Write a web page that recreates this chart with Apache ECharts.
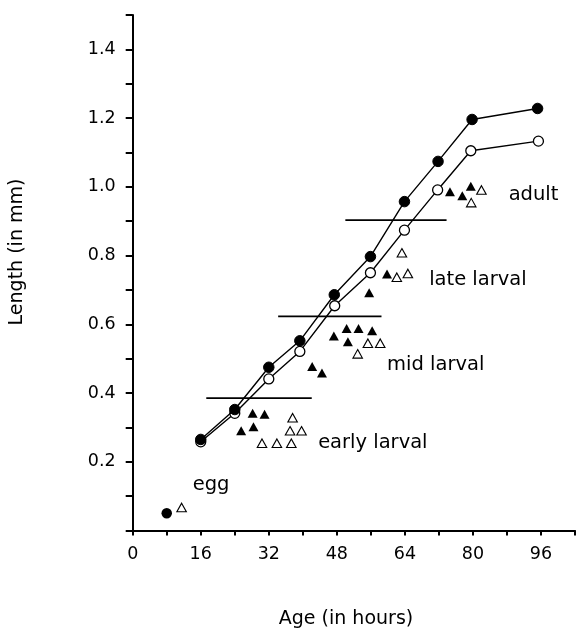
<!DOCTYPE html>
<html>
<head>
<meta charset="utf-8">
<script src="https://cdn.jsdelivr.net/npm/echarts@6/dist/echarts.min.js"></script>
<style>html,body{margin:0;padding:0;background:#fff;}#chart{width:578px;height:632px;}</style>
</head>
<body>
<div id="chart"></div>
<script>
// ---- data (age in hours, length in mm) ----
const eggCircle = [[8, 0.05]];
const filledLine = [[16,0.265],[24,0.352],[32,0.475],[39.3,0.552],[47.4,0.686],[55.9,0.797],[63.9,0.957],[71.8,1.074],[79.8,1.196],[95.2,1.228]];
const openLine = [[16,0.258],[24,0.341],[32,0.441],[39.3,0.521],[47.5,0.654],[55.9,0.750],[63.9,0.874],[71.7,0.991],[79.5,1.105],[95.4,1.133]];
const filledTriangles = [[25.5,0.290],[28.2,0.341],[28.4,0.302],[31.0,0.338],[42.2,0.477],[44.5,0.458],[47.3,0.566],[50.3,0.588],[50.6,0.549],[53.1,0.588],[56.3,0.581],[55.6,0.692],[59.8,0.746],[74.6,0.986],[77.5,0.974],[79.5,1.002]];
const openTriangles = [[11.5,0.067],[30.4,0.254],[33.9,0.254],[37.3,0.254],[37.0,0.290],[39.7,0.290],[37.6,0.328],[52.9,0.514],[55.3,0.545],[58.2,0.545],[62.1,0.737],[64.7,0.748],[63.3,0.808],[79.6,0.954],[82.0,0.991]];
const stageBars = [
  [[17.3,0.385],[42.1,0.385]],
  [[34.2,0.623],[58.5,0.623]],
  [[50.0,0.903],[73.8,0.903]]
];
const stageLabels = [
  {name:'egg', pos:[14.1,0.133]},
  {name:'early larval', pos:[43.6,0.255]},
  {name:'mid larval', pos:[59.8,0.482]},
  {name:'late larval', pos:[69.7,0.729]},
  {name:'adult', pos:[88.4,0.976]}
];
const xTickLabels = [0,16,32,48,64,80,96];
const yTickLabels = ['0.2','0.4','0.6','0.8','1.0','1.2','1.4'];
const xTitle = 'Age (in hours)';
const yTitle = 'Length (in mm)';

const FONT = 'DejaVu Sans';
const chart = echarts.init(document.getElementById('chart'), null, {renderer:'canvas'});

const series = [];
stageBars.forEach(seg => series.push({
  type:'line', data:seg, symbol:'none', silent:true,
  lineStyle:{color:'#000', width:1.7}, z:2
}));
series.push({
  type:'line', data:openLine, symbol:'circle', symbolSize:10,
  itemStyle:{color:'#fff', borderColor:'#000', borderWidth:1.3, opacity:1},
  lineStyle:{color:'#000', width:1.4}, z:3
});
series.push({
  type:'line', data:filledLine, symbol:'circle', symbolSize:10.5,
  itemStyle:{color:'#000', borderColor:'#000', borderWidth:1, opacity:1},
  lineStyle:{color:'#000', width:1.4}, z:4
});
series.push({
  type:'scatter', data:eggCircle, symbol:'circle', symbolSize:10.5,
  itemStyle:{color:'#000', opacity:1}, z:4
});
series.push({
  type:'scatter', data:filledTriangles, symbol:'triangle', symbolSize:[10,9],
  itemStyle:{color:'#000', opacity:1}, z:4
});
series.push({
  type:'scatter', data:openTriangles, symbol:'triangle', symbolSize:[9.5,8.5],
  itemStyle:{color:'#fff', borderColor:'#000', borderWidth:1.1, opacity:1}, z:4
});
series.push({
  type:'scatter', symbolSize:0, silent:true, z:5,
  itemStyle:{opacity:1},
  data: stageLabels.map(s => ({value:s.pos, name:s.name})),
  label:{show:true, position:'right', distance:0, formatter:p=>p.name,
    fontFamily:FONT, fontSize:19.5, color:'#000', opacity:1}
});

chart.setOption({
  animation:false,
  backgroundColor:'#fff',
  grid:{left:132.7, right:0.5, top:15, bottom:101.5, containLabel:false},
  xAxis:{
    type:'value', min:0, max:104, interval:8,
    axisLine:{show:true, onZero:false, lineStyle:{color:'#000', width:2}},
    axisTick:{show:true, inside:false, length:5, lineStyle:{color:'#000', width:2}},
    splitLine:{show:false},
    axisLabel:{
      margin:15, fontFamily:FONT, fontSize:17.5, color:'#000',
      formatter:v => xTickLabels.indexOf(v) >= 0 ? String(v) : ''
    }
  },
  yAxis:{
    type:'value', min:0, max:1.5, interval:0.1,
    axisLine:{show:true, onZero:false, lineStyle:{color:'#000', width:2}},
    axisTick:{show:true, inside:false, length:7, lineStyle:{color:'#000', width:2}},
    splitLine:{show:false},
    axisLabel:{
      margin:17, fontFamily:FONT, fontSize:17.5, color:'#000',
      formatter:v => { const s = v.toFixed(1); return yTickLabels.indexOf(s) >= 0 ? s : ''; }
    }
  },
  graphic:[
    {type:'text', x:17.5, y:252, rotation:Math.PI/2,
      style:{text:yTitle, font:'19px "DejaVu Sans"', fill:'#000', textAlign:'center', textVerticalAlign:'middle'}},
    {type:'text', x:346, y:619,
      style:{text:xTitle, font:'19px "DejaVu Sans"', fill:'#000', textAlign:'center', textVerticalAlign:'middle'}}
  ],
  series:series
});
</script>
</body>
</html>
